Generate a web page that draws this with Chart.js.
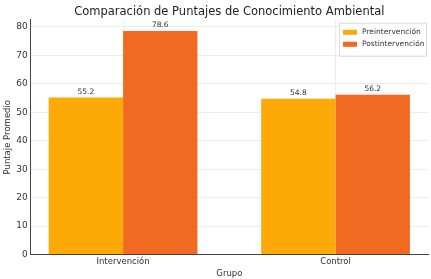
<!DOCTYPE html>
<html>
<head>
<meta charset="utf-8">
<script src="https://cdn.jsdelivr.net/npm/chart.js@4/dist/chart.umd.min.js"></script>
<style>
  html, body { margin:0; padding:0; background:#fff; }
  #wrap { width:431px; height:279px; }
</style>
</head>
<body>
<div id="wrap"><canvas id="c" width="431" height="279"></canvas></div>
<script>
// chart data
const groups = ['Intervención', 'Control'];
const preScores = [55.2, 54.8];
const postScores = [78.6, 56.2];
const seriesNames = ['Preintervención', 'Postintervención'];
const yTicks = [0, 10, 20, 30, 40, 50, 60, 70, 80];
const titleText = 'Comparación de Puntajes de Conocimiento Ambiental';

const preColor = '#FDAA08';
const postColor = '#F26A22';
const txt = '#333';
const font = 'DejaVu Sans';

// value labels above bars
const barLabels = {
  id: 'barLabels',
  afterDatasetsDraw(chart) {
    const ctx = chart.ctx;
    ctx.save();
    ctx.font = '7.5px "' + font + '"';
    ctx.fillStyle = txt;
    ctx.textAlign = 'center';
    ctx.textBaseline = 'bottom';
    chart.data.datasets.forEach((ds, i) => {
      chart.getDatasetMeta(i).data.forEach((bar, j) => {
        ctx.fillText(ds.data[j].y.toFixed(1), bar.x, bar.y - 2);
      });
    });
    ctx.restore();
  }
};

// title centred over the plot area (built-in title only reserves the space)
const plotTitle = {
  id: 'plotTitle',
  afterDraw(chart) {
    const ctx = chart.ctx;
    const a = chart.chartArea;
    const t = chart.titleBlock;
    ctx.save();
    ctx.font = '11.5px "' + font + '"';
    ctx.fillStyle = '#222';
    ctx.textAlign = 'center';
    ctx.textBaseline = 'middle';
    ctx.fillText(titleText, (a.left + a.right) / 2, (t.top + t.bottom) / 2 + 2);
    ctx.restore();
  }
};

// legend inside the plot, upper right
const boxLegend = {
  id: 'boxLegend',
  afterDraw(chart) {
    const ctx = chart.ctx;
    const a = chart.chartArea;
    const w = 87, h = 33;
    const x = a.right - w - 2, y = a.top + 3;
    ctx.save();
    ctx.fillStyle = 'rgba(255,255,255,0.85)';
    ctx.strokeStyle = '#ddd';
    ctx.lineWidth = 1;
    ctx.fillRect(x, y, w, h);
    ctx.strokeRect(x + 0.5, y + 0.5, w, h);
    ctx.font = '7.5px "' + font + '"';
    ctx.textBaseline = 'middle';
    chart.data.datasets.forEach((ds, i) => {
      const cy = y + 9 + i * 12;
      ctx.fillStyle = ds.backgroundColor;
      ctx.fillRect(x + 4, cy - 2, 14, 5);
      ctx.fillStyle = txt;
      ctx.fillText(ds.label, x + 23, cy);
    });
    ctx.restore();
  }
};

const toPts = arr => arr.map((v, i) => ({ x: i, y: v }));

new Chart(document.getElementById('c').getContext('2d'), {
  type: 'bar',
  data: {
    datasets: [
      { label: seriesNames[0], data: toPts(preScores), backgroundColor: preColor },
      { label: seriesNames[1], data: toPts(postScores), backgroundColor: postColor }
    ]
  },
  options: {
    responsive: false,
    animation: false,
    layout: { padding: { left: 3, right: 3, top: 0, bottom: 0 } },
    datasets: { bar: { categoryPercentage: 0.7, barPercentage: 1.0 } },
    plugins: {
      legend: { display: false },
      tooltip: { enabled: false },
      title: {
        display: true,
        text: titleText,
        color: 'rgba(0,0,0,0)',
        font: { family: font, size: 11.5, weight: 'normal' },
        padding: { top: 3, bottom: 3 }
      }
    },
    scales: {
      x: {
        type: 'linear',
        offset: false,
        min: -0.435,
        max: 1.435,
        afterBuildTicks: s => { s.ticks = groups.map((g, i) => ({ value: i })); },
        ticks: {
          callback: v => groups[v],
          color: txt,
          font: { family: font, size: 8.5 },
          padding: 2,
          maxRotation: 0
        },
        grid: { color: '#ececec', offset: false, drawTicks: false },
        border: { color: '#444', width: 1 },
        title: {
          display: true, text: 'Grupo', color: txt,
          font: { family: font, size: 8.5 }, padding: { top: 0, bottom: 0 }
        }
      },
      y: {
        min: 0,
        max: 82.53,
        afterBuildTicks: s => { s.ticks = yTicks.map(v => ({ value: v })); },
        ticks: { color: txt, font: { family: font, size: 9 }, padding: 3 },
        grid: { color: '#ececec', drawTicks: false },
        border: { color: '#444', width: 1 },
        title: {
          display: true, text: 'Puntaje Promedio', color: txt,
          font: { family: font, size: 8.5 }, padding: { top: 0, bottom: 0 }
        }
      }
    }
  },
  plugins: [barLabels, boxLegend, plotTitle]
});
</script>
</body>
</html>
